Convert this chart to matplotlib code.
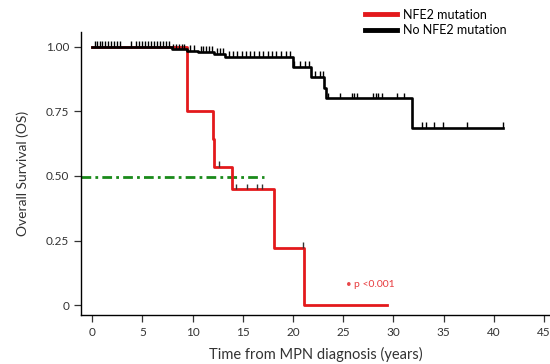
"""Kaplan-Meier overall survival by NFE2 mutation status."""
import matplotlib

matplotlib.use("Agg")
import matplotlib.pyplot as plt
import numpy as np

plt.rcParams["font.family"] = ["Lato", "DejaVu Sans"]

# Step curves (time in years, survival fraction).
red_times = [0, 9.43, 12.0, 12.1, 13.9, 18.1, 21.1, 29.4]
red_surv = [1.0, 0.75, 0.642, 0.536, 0.448, 0.223, 0.0, 0.0]
red_censor = [12.6, 14.3, 15.4, 16.4, 16.9, 21.0]

black_times = [0, 7.9, 9.4, 10.5, 12.1, 13.2, 20.0, 21.8, 23.1, 23.3, 31.9, 40.9]
black_surv = [1.0, 0.99, 0.985, 0.98, 0.972, 0.962, 0.922, 0.883, 0.84, 0.80,
              0.687, 0.687]
black_censor = [0.3, 0.5, 0.8, 1.0, 1.3, 1.6, 1.9, 2.2, 2.5, 2.8, 3.9, 4.4, 4.7,
                5.0, 5.3, 5.6, 5.9, 6.2, 6.5, 6.8, 7.1, 7.4, 7.7, 8.0, 8.3, 8.6,
                8.9, 9.1, 9.7, 10.1, 10.8, 11.0, 11.3, 11.6, 11.9, 12.4, 12.7,
                13.0, 13.6, 14.0, 14.4, 14.9, 15.3, 15.7, 16.1, 16.6, 17.0, 17.5,
                17.9, 18.3, 18.8, 19.3, 19.7, 20.1, 20.7, 21.2, 21.6, 22.2, 22.7,
                23.0, 23.5, 24.7, 25.9, 26.1, 26.4, 27.96, 28.3, 28.5, 28.9,
                30.35, 31.1, 32.9, 33.2, 34.0, 34.9, 37.3, 40.9]

median_level = 0.495
median_end = 17.1

x_ticks = [0, 5, 10, 15, 20, 25, 30, 35, 40, 45]
y_ticks = [0, 0.25, 0.5, 0.75, 1.0]
y_labels = ["0", "0.25", "0.50", "0.75", "1.00"]

RED = "#e3191c"
GREEN = "#1a8a1a"


def level_at(times, surv, t):
    idx = np.searchsorted(times, t, side="right") - 1
    return np.asarray(surv)[idx]


fig = plt.figure(figsize=(5.5, 3.64), dpi=100)
ax = fig.add_axes([0.147, 0.135, 0.853, 0.777])

ax.plot([-1.13, median_end], [median_level] * 2, color=GREEN, lw=2,
        dashes=(3.5, 1.5, 1, 1.5))

ax.step(red_times, red_surv, where="post", color=RED, lw=2,
        label="NFE2 mutation")
ax.step(black_times, black_surv, where="post", color="black", lw=1.9,
        label="No NFE2 mutation")

tick_h = 0.022
for times, surv, cens, col in [(red_times, red_surv, red_censor, "#333333"),
                               (black_times, black_surv, black_censor, "black")]:
    lv = level_at(times, surv, cens)
    ax.vlines(cens, lv, lv + tick_h, color=col, lw=1.0)

ax.text(25.6, 0.08, "•", color=RED, fontsize=7, ha="center", va="center",
        alpha=0.8)
ax.text(26.1, 0.08, "p <0.001", color=RED, fontsize=7.5, va="center",
        alpha=0.85)

ax.set_xlim(-1.13, 45.6)
ax.set_ylim(-0.0375, 1.057)
ax.set_xticks(x_ticks, [str(v) for v in x_ticks])
ax.set_yticks(y_ticks, y_labels)
ax.tick_params(axis="both", direction="out", length=5, width=0.9,
               labelsize=8.5, colors="#333333", labelcolor="#333333")
ax.tick_params(axis="x", pad=4)
ax.spines["top"].set_visible(False)
ax.spines["right"].set_visible(False)
for s in ("left", "bottom"):
    ax.spines[s].set_linewidth(1.0)

ax.set_xlabel("Time from MPN diagnosis (years)", fontsize=10.5,
              color="#333333", labelpad=6)
ax.set_ylabel("Overall Survival (OS)", fontsize=10, color="#333333",
              labelpad=12)

fig.legend(loc="upper left", bbox_to_anchor=(0.655, 0.99), frameon=False,
           fontsize=9, handlelength=2.5, handletextpad=0.5, labelspacing=0.3,
           borderaxespad=0)
for h in fig.legends[0].legend_handles:
    h.set_linewidth(3.5)

fig.savefig("out.png", dpi=100)
